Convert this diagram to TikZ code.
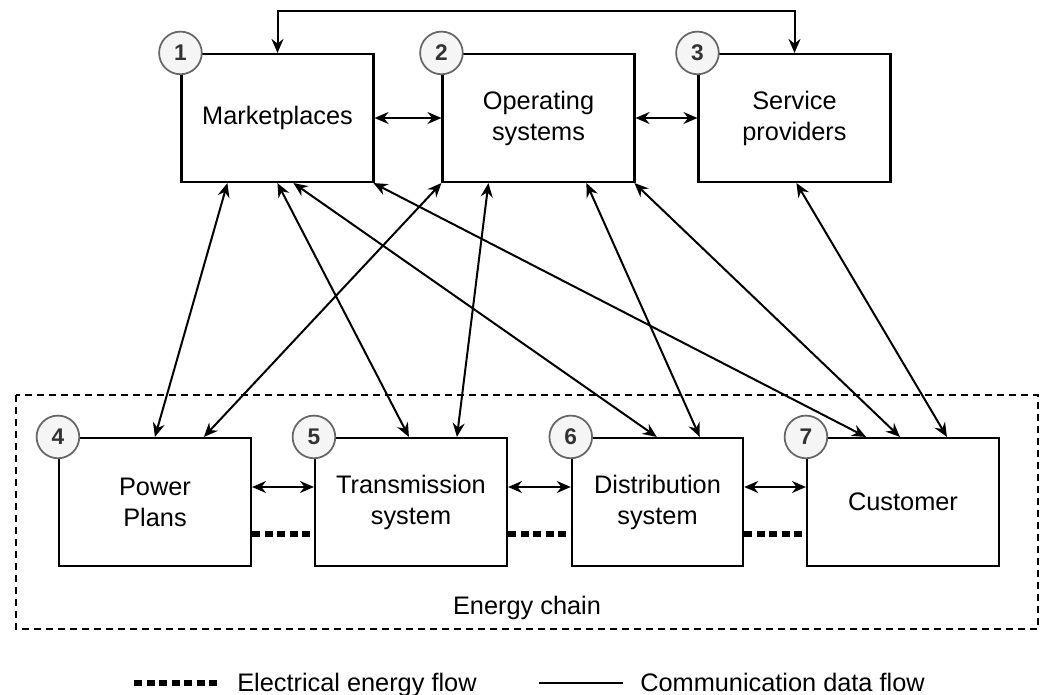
\documentclass[tikz,border=0pt]{standalone}
\usepackage{fontspec}
\setmainfont{Liberation Sans}
\usepackage{xcolor}
\usetikzlibrary{arrows.meta,calc}
\definecolor{badgefill}{HTML}{F5F5F5}
\definecolor{badgeline}{HTML}{666666}
\definecolor{badgetext}{HTML}{333333}
\tikzset{
	>={Stealth[length=10.5pt,width=9pt,inset=3.5pt]},
	block/.style = {
			draw,
			line width      = 1.6pt,
			minimum width   = 144pt,
			minimum height  = 96pt,
			inner sep       = 0pt,
			align           = center,
			font            = \fontsize{19}{23.25}\selectfont,
		},
	badge/.style = {
			circle,
			draw            = badgeline,
			fill            = badgefill,
			text            = badgetext,
			line width      = 1.3pt,
			minimum size    = 32pt,
			inner sep       = 0pt,
			font            = \fontsize{17}{20}\selectfont\bfseries,
		},
	txt/.style = {inner sep=0pt, font=\fontsize{19}{23}\selectfont},
	comm/.style = {<->, line width=1.5pt},
	power/.style = {line width=4.5pt, dash pattern=on 6pt off 3.4pt},
}

\begin{document}
\begin{tikzpicture}[x=0.75pt,y=-0.75pt]
	\useasboundingbox (0,0) rectangle (1046,695);

	% Energy chain frame
	\draw[line width=1.2pt, dash pattern=on 5pt off 4pt] (16,395) rectangle (1038,629);
	\node[txt, anchor=base] (chain) at (527,614) {Energy chain};

	% Upper row
	\node[block] (mkt) at (277.5,118) {Marketplaces};
	\node[block] (ops) at (538.5,118) {Operating\\systems};
	\node[block] (srv) at (794.5,118) {Service\\providers};

	% Energy chain row
	\node[block] (pwr) at (155,502) {Power\\Plans};
	\node[block] (trn) at (411,502) {Transmission\\system};
	\node[block, minimum width=128.5pt] (dst) at (657.5,502) {Distribution\\system};
	\node[block] (cst) at (903,502) {Customer};

	% Numbers
	\foreach \b/\n in {mkt/1,ops/2,srv/3,pwr/4,trn/5,dst/6,cst/7}
		\node[badge] (n\n) at (\b.north west) {\n};

	% Communication data flow
	\draw[comm] (mkt.north) -- ++(0,-42) -| (srv.north);
	\draw[comm] (mkt.east) -- (ops.west);
	\draw[comm] (ops.east) -- (srv.west);
	\foreach \l/\r in {pwr/trn,trn/dst,dst/cst}
		{   \draw[comm] ($(\l.east)+(0,-15)$) -- ($(\r.west)+(0,-15)$);
			\draw[power] ($(\l.east)+(0,32)$) -- ($(\r.west)+(0,32)$);
		}
	\foreach \a/\da/\b/\db in {mkt/47/pwr/97,mkt/97/trn/95,mkt/113/dst/86,mkt/193/cst/60,
		ops/0/pwr/146,ops/47/trn/143,ops/145/dst/129,ops/193/cst/94,srv/99/cst/141}
		\draw[comm] ($(\a.south west)+(\da,0)$) -- ($(\b.north west)+(\db,0)$);

	% Legend
	\coordinate (ela) at (134,683);
	\coordinate (elb) at (217,683);
	\draw[power] (ela) -- (elb);
	\node[txt, anchor=base west] (eltext) at (237,691) {Electrical energy flow};
	\coordinate (cda) at (539,683);
	\coordinate (cdb) at (623,683);
	\draw[line width=1.5pt] (cda) -- (cdb);
	\node[txt, anchor=base west] (cdtext) at (640,691) {Communication data flow};
\end{tikzpicture}
\end{document}
